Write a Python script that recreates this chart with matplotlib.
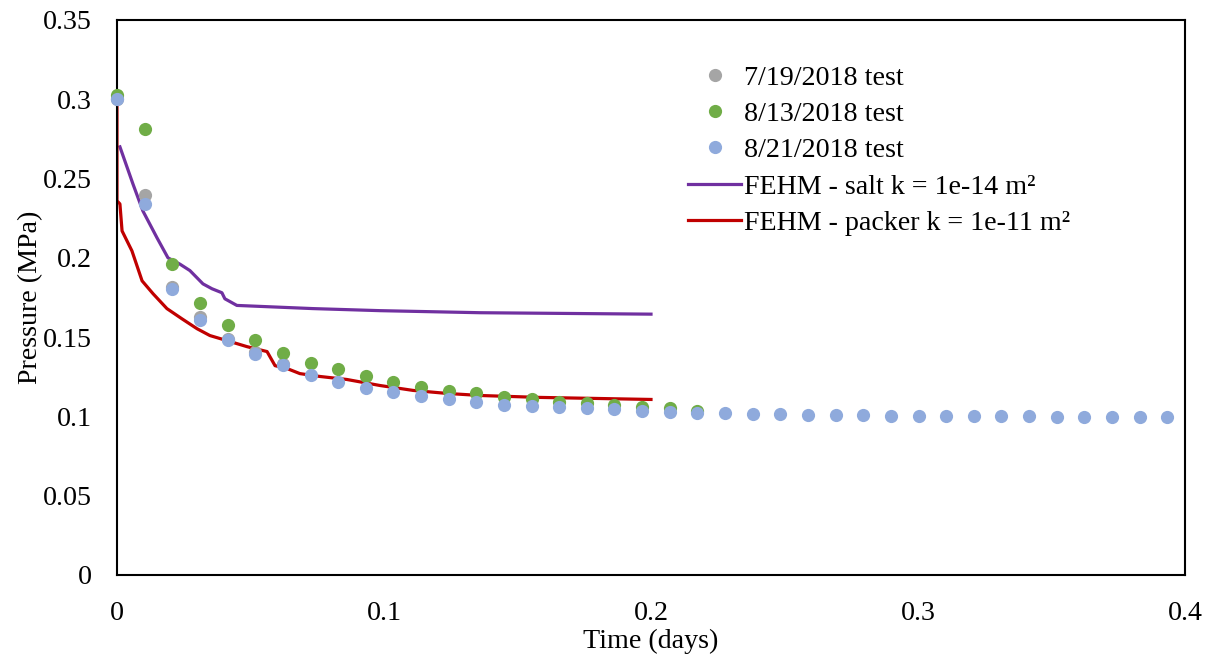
import matplotlib.pyplot as plt
from matplotlib.lines import Line2D

plt.rcParams['font.family'] = ['Liberation Serif', 'DejaVu Serif']

# measured data (15-min sampling)
t_test = [0, 0.0104, 0.0207, 0.0311, 0.0414, 0.0518, 0.0621, 0.0725, 0.0828, 0.0932,
          0.1035, 0.1139, 0.1242, 0.1346, 0.1449, 0.1553, 0.1656, 0.1760, 0.1863, 0.1967,
          0.2070, 0.2174, 0.2277, 0.2381, 0.2484, 0.2588, 0.2691, 0.2795, 0.2898, 0.3002,
          0.3105, 0.3209, 0.3312, 0.3416, 0.3519, 0.3623, 0.3726, 0.3830, 0.3933]

p_0719 = [0.300, 0.2396, 0.1815, 0.1625, 0.1490, 0.1405, 0.1332]

p_0813 = [0.3025, 0.2813, 0.1960, 0.1716, 0.1579, 0.1484, 0.1403, 0.1340, 0.1296, 0.1252,
          0.1214, 0.1184, 0.1160, 0.1145, 0.1120, 0.1107, 0.1094, 0.1082, 0.1069, 0.1057,
          0.1050, 0.1035]

p_0821 = [0.300, 0.2342, 0.1805, 0.1610, 0.1484, 0.1396, 0.1327, 0.1264, 0.1220, 0.1182,
          0.1151, 0.1126, 0.1107, 0.1091, 0.1075, 0.1063, 0.1057, 0.1050, 0.1044, 0.1033,
          0.1027, 0.1024, 0.1019, 0.1015, 0.1013, 0.1011, 0.1009, 0.1007, 0.1005, 0.1004,
          0.1003, 0.1002, 0.1001, 0.1000, 0.0999, 0.0998, 0.0998, 0.0997, 0.0997]

# FEHM model curves
t_salt = [0.0011, 0.0060, 0.0097, 0.0150, 0.0191, 0.0236, 0.0273, 0.0322, 0.0356, 0.0393,
          0.0404, 0.0449, 0.0734, 0.0985, 0.1360, 0.2000]
p_salt = [0.270, 0.2465, 0.2296, 0.2126, 0.2000, 0.1960, 0.1920, 0.1836, 0.1805, 0.1780,
          0.1742, 0.1700, 0.1680, 0.1667, 0.1654, 0.1645]

t_packer = [0, 0, 0.0011, 0.0019, 0.0056, 0.0094, 0.0135, 0.0187, 0.0243, 0.0300,
            0.0348, 0.0412, 0.0487, 0.0562, 0.0592, 0.0637, 0.0685, 0.0760, 0.0861, 0.0985,
            0.1109, 0.1236, 0.1360, 0.1580, 0.2000]
p_packer = [0.300, 0.236, 0.234, 0.217, 0.2044, 0.1855, 0.1774, 0.1680, 0.1616, 0.1553,
            0.1510, 0.1478, 0.1440, 0.1409, 0.1320, 0.1302, 0.1270, 0.1252, 0.1233, 0.1195,
            0.1164, 0.1145, 0.1132, 0.1120, 0.1107]

fig = plt.figure(figsize=(12.06, 6.6), dpi=100)
ax = fig.add_axes([0.097, 0.1288, 0.8856, 0.8409])

ms = 9.5
fs = 20.2
ax.plot(t_salt, p_salt, color='#7030A0', lw=2.3, zorder=2)
ax.plot(t_packer, p_packer, color='#C00000', lw=2.3, zorder=2)
ax.plot(t_test[:len(p_0719)], p_0719, 'o', color='#A5A5A5', ms=ms, mew=0, zorder=3, clip_on=False)
ax.plot(t_test[:len(p_0813)], p_0813, 'o', color='#70AD47', ms=ms, mew=0, zorder=4, clip_on=False)
ax.plot(t_test, p_0821, 'o', color='#8FAADC', ms=ms, mew=0, zorder=5, clip_on=False)

ax.set_xlim(0, 0.4)
ax.set_ylim(0, 0.35)
ax.set_xticks([0, 0.1, 0.2, 0.3, 0.4])
ax.set_xticklabels(['0', '0.1', '0.2', '0.3', '0.4'])
ax.set_yticks([0, 0.05, 0.1, 0.15, 0.2, 0.25, 0.3, 0.35])
ax.set_yticklabels(['0', '0.05', '0.1', '0.15', '0.2', '0.25', '0.3', '0.35'])
ax.tick_params(length=0, labelsize=fs)
ax.tick_params(axis='y', pad=18)
ax.tick_params(axis='x', pad=19)
for s in ax.spines.values():
    s.set_linewidth(1.5)
    s.set_color('black')

ax.set_xlabel('Time (days)', fontsize=fs, labelpad=2)
ax.set_ylabel('Pressure (MPa)', fontsize=fs, labelpad=0)

handles = [
    Line2D([], [], ls='none', marker='o', color='#A5A5A5', ms=ms, mew=0),
    Line2D([], [], ls='none', marker='o', color='#70AD47', ms=ms, mew=0),
    Line2D([], [], ls='none', marker='o', color='#8FAADC', ms=ms, mew=0),
    Line2D([], [], color='#7030A0', lw=2.3),
    Line2D([], [], color='#C00000', lw=2.3),
]
labels = ['7/19/2018 test', '8/13/2018 test', '8/21/2018 test',
          'FEHM - salt k = 1e-14 m²', 'FEHM - packer k = 1e-11 m²']
fig.legend(handles, labels, loc='upper left', bbox_to_anchor=(0.5705, 1 - 65 / 660),
           frameon=False, fontsize=fs, handlelength=1.9, handletextpad=0.1,
           labelspacing=0.38, borderpad=0, borderaxespad=0)

fig.savefig('out.png', dpi=100)
